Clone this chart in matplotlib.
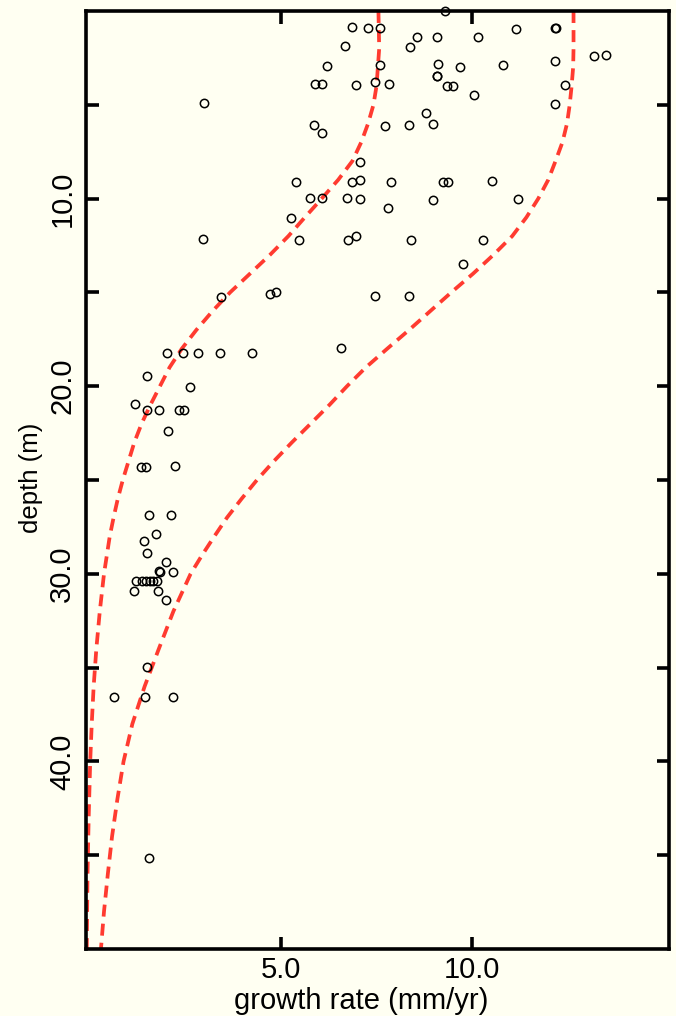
import matplotlib
matplotlib.use("Agg")
import matplotlib.pyplot as plt
import numpy as np

plt.rcParams['font.family'] = ['Liberation Sans', 'DejaVu Sans']

# measured points: growth rate (mm/yr) vs depth (m)
growth = [9.29, 6.86, 7.28, 7.59, 8.55, 9.08, 6.68, 8.37, 6.20, 7.59,
          9.10, 9.69, 9.07, 9.09, 5.90, 6.09, 6.97, 7.47, 7.82, 9.34,
          9.49, 8.80, 5.87, 7.73, 8.36, 8.98,
          11.13, 12.15, 12.17, 10.16, 13.17, 13.50, 10.81, 12.15, 12.43, 10.04,
          12.15,
          6.09, 7.07, 5.39, 6.86, 7.07, 7.87, 9.24, 9.37, 5.77, 6.07,
          6.74, 7.07, 8.98, 7.79, 5.27, 5.48, 6.75, 6.97, 8.41, 9.76,
          4.88, 4.72, 7.45, 8.36, 10.52, 11.20, 10.28,
          3.00, 2.97, 3.44,
          2.03, 2.44, 2.84, 3.41, 4.25, 6.58, 1.51, 2.63, 1.19, 1.50,
          1.83, 2.35, 2.49, 2.07, 1.35, 1.49, 2.23, 1.56, 2.15, 1.74,
          1.44, 1.50, 2.01, 1.83, 1.85, 2.20, 1.22, 1.37, 1.49, 1.59,
          1.68, 1.76, 1.17, 1.80, 2.01,
          1.51, 0.64, 1.47, 2.18, 1.56]
depth = [0.02, 0.84, 0.89, 0.93, 1.39, 1.41, 1.87, 1.90, 2.95, 2.86,
         2.83, 2.97, 3.45, 3.48, 3.91, 3.91, 3.95, 3.81, 3.90, 3.98,
         3.98, 5.44, 6.06, 6.12, 6.06, 6.05,
         0.96, 0.91, 0.93, 1.41, 2.40, 2.37, 2.90, 2.67, 3.97, 4.46,
         4.96,
         6.53, 8.04, 9.14, 9.12, 9.00, 9.12, 9.14, 9.14, 9.98, 9.99,
         9.99, 10.01, 10.06, 10.49, 11.01, 12.20, 12.22, 12.00, 12.22, 13.51,
         14.97, 15.10, 15.18, 15.18, 9.05, 10.03, 12.20,
         4.91, 12.18, 15.23,
         18.24, 18.24, 18.24, 18.24, 18.24, 17.96, 19.47, 20.04, 20.93, 21.26,
         21.26, 21.26, 21.26, 22.38, 24.29, 24.29, 24.27, 26.85, 26.86, 27.88,
         28.27, 28.87, 29.37, 29.87, 29.90, 29.89, 30.39, 30.39, 30.39, 30.39,
         30.39, 30.39, 30.90, 30.90, 31.41,
         34.97, 36.55, 36.55, 36.57, 45.16]

# envelope curves
lower_depth = [0, 2, 4, 5, 6, 7, 8, 9, 10, 11, 12, 13, 14, 15, 16, 17, 18,
               19, 20, 21, 22, 23, 24, 25, 26, 27, 28, 30, 32, 34, 36, 38,
               40, 43, 46, 50]
lower_rate = [7.55, 7.57, 7.50, 7.42, 7.28, 7.10, 6.87, 6.50, 6.07, 5.63,
              5.20, 4.72, 4.20, 3.68, 3.22, 2.80, 2.42, 2.10, 1.85, 1.60,
              1.37, 1.18, 1.03, 0.88, 0.75, 0.64, 0.54, 0.39, 0.28, 0.19,
              0.12, 0.07, 0.03, -0.01, -0.04, -0.06]
upper_depth = [0, 2, 3, 4, 5, 6, 7, 8, 9, 10, 11, 12, 13, 14, 15, 16, 17,
               18, 19, 20, 21, 22, 23, 24, 25, 26, 27, 28, 29, 30, 32, 34,
               36, 38, 40, 42, 44, 46, 48, 50]
upper_rate = [12.64, 12.64, 12.63, 12.59, 12.54, 12.47, 12.35, 12.17, 11.98,
              11.72, 11.41, 11.04, 10.55, 10.02, 9.45, 8.90, 8.35, 7.78, 7.22,
              6.73, 6.27, 5.78, 5.29, 4.82, 4.38, 3.98, 3.60, 3.27, 2.95,
              2.65, 2.20, 1.82, 1.45, 1.13, 0.90, 0.74, 0.60, 0.49, 0.39, 0.31]

bg = '#fffff2'
fig = plt.figure(figsize=(6.76, 10.16), dpi=100, facecolor=bg)
ax = fig.add_axes([0.1272, 0.0659, 0.8624, 0.9233], facecolor=bg)

ax.plot(lower_rate, lower_depth, color='#ff3b30', lw=2.7, dashes=(3.2, 1.9), zorder=1)
ax.plot(upper_rate, upper_depth, color='#ff3b30', lw=2.7, dashes=(3.2, 1.9), zorder=1)
ax.plot(growth, depth, 'o', mfc='none', mec='black', ms=6, mew=1.1,
        zorder=3, clip_on=False)

ax.set_xlim(-0.08, 15.13)
ax.set_ylim(50, 0)

ax.set_xticks([5, 10])
ax.set_xticklabels(['5.0', '10.0'])
ax.set_yticks([5, 10, 15, 20, 25, 30, 35, 40, 45])
ax.set_yticklabels(['', '10.0', '', '20.0', '', '30.0', '', '40.0', ''],
                   rotation=90, va='center')
ax.tick_params(direction='in', length=9, width=2.6, top=True, right=True,
               labelsize=21, pad=5)
ax.tick_params(axis='y', pad=7)
for s in ax.spines.values():
    s.set_linewidth(2.6)

ax.set_xlabel('growth rate (mm/yr)', fontsize=21)
ax.xaxis.set_label_coords(0.472, -0.040)
ax.set_ylabel('depth (m)', fontsize=18.5)
ax.yaxis.set_label_coords(-0.073, 0.502)

fig.savefig('out.png', dpi=100, facecolor=bg)
